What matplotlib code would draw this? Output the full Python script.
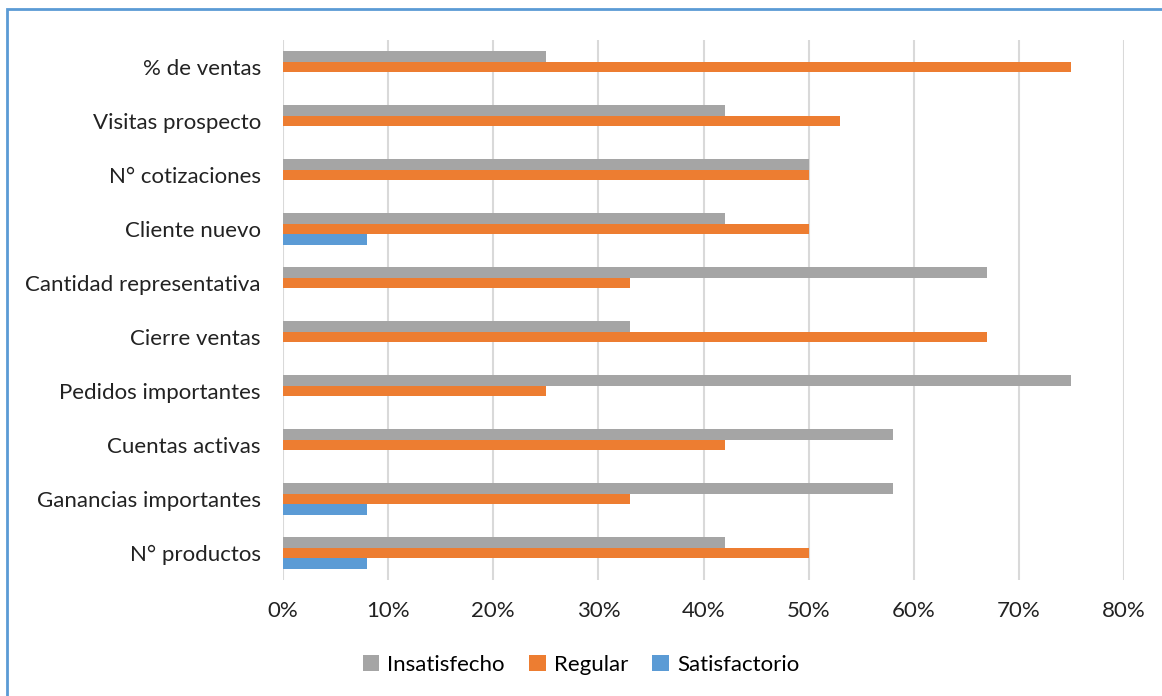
import numpy as np
import matplotlib
matplotlib.use("Agg")
import matplotlib.pyplot as plt
from matplotlib.patches import Rectangle

plt.rcParams["font.family"] = ["Lato", "DejaVu Sans"]

# bottom-to-top order, as drawn on the y axis
categories = ["N° productos", "Ganancias importantes", "Cuentas activas",
              "Pedidos importantes", "Cierre ventas", "Cantidad representativa",
              "Cliente nuevo", "N° cotizaciones", "Visitas prospecto", "% de ventas"]
insatisfecho = [42, 58, 58, 75, 33, 67, 42, 50, 42, 25]
regular = [50, 33, 42, 25, 67, 33, 50, 50, 53, 75]
satisfactorio = [8, 8, 0, 0, 0, 0, 8, 0, 0, 0]
xticks = [0, 10, 20, 30, 40, 50, 60, 70, 80]

GRAY, ORANGE, BLUE = "#A5A5A5", "#ED7D31", "#5B9BD5"
FS = 16

W, H = 1162, 696
fig = plt.figure(figsize=(W / 100, H / 100), dpi=100)
ax = fig.add_axes([283 / W, 1 - 580 / H, (1124 - 283) / W, (580 - 40) / H])

y = np.arange(len(categories))
h = 0.2
ax.barh(y + h, insatisfecho, height=h, color=GRAY, label="Insatisfecho", zorder=3)
ax.barh(y, regular, height=h, color=ORANGE, label="Regular", zorder=3)
ax.barh(y - h, satisfactorio, height=h, color=BLUE, label="Satisfactorio", zorder=3)

ax.set_xlim(0, 80)
ax.set_ylim(-0.5, len(categories) - 0.5)
ax.set_xticks(xticks)
ax.set_xticklabels([f"{t}%" for t in xticks], fontsize=FS, color="#222222")
ax.set_yticks(y)
ax.set_yticklabels(categories, fontsize=FS, color="#222222")
ax.tick_params(length=0)
ax.tick_params(axis="x", pad=15)
ax.tick_params(axis="y", pad=16)
ax.grid(axis="x", color="#D9D9D9", lw=1.5, zorder=0)
for s in ax.spines.values():
    s.set_visible(False)

handles, labels = ax.get_legend_handles_labels()
fig.legend(handles, labels, loc="center", bbox_to_anchor=(0.5, 1 - 665 / H),
           ncol=3, frameon=False, fontsize=FS, handlelength=0.75, handleheight=0.75,
           handletextpad=0.35, columnspacing=1.1)

# chart frame (only top and left edges fall inside the image)
fig.patches.append(Rectangle((7 / W, -0.1), 1.2, 1 - 9 / H + 0.1, transform=fig.transFigure,
                             fill=False, edgecolor=BLUE, lw=2))

fig.savefig("out.png", dpi=100)
